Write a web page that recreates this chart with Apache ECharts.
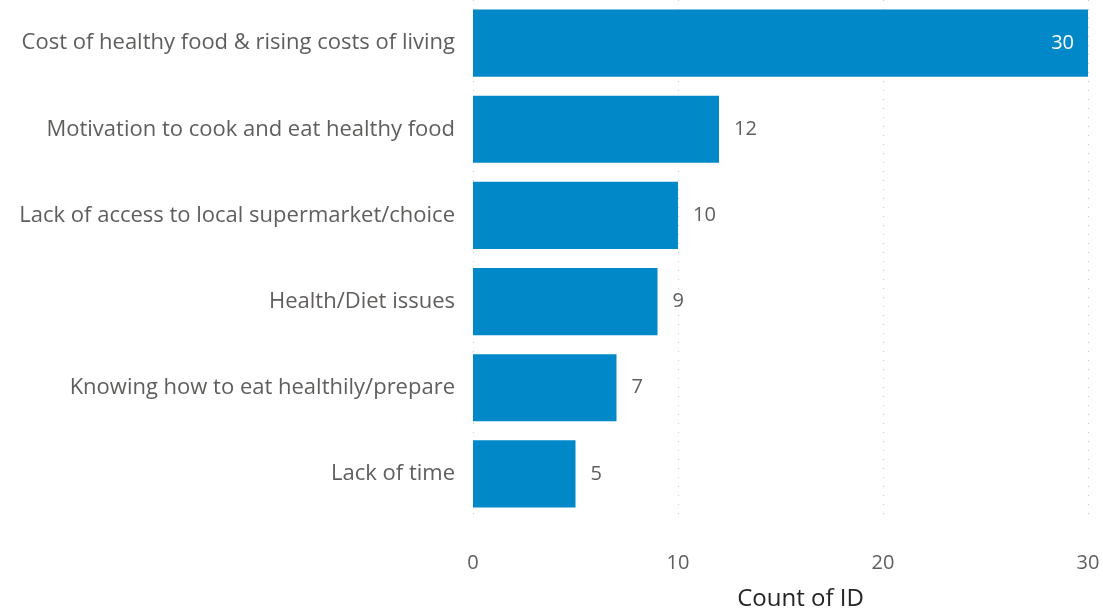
<!DOCTYPE html>
<html>
<head>
<meta charset="utf-8">
<script src="https://cdn.jsdelivr.net/npm/echarts@6/dist/echarts.min.js"></script>
<style>
  html, body { margin: 0; padding: 0; background: #fff; }
  #main { width: 1103px; height: 613px; }
</style>
</head>
<body>
<div id="main"></div>
<script>
// categories, top to bottom
var categories = [
  'Cost of healthy food & rising costs of living',
  'Motivation to cook and eat healthy food',
  'Lack of access to local supermarket/choice',
  'Health/Diet issues',
  'Knowing how to eat healthily/prepare',
  'Lack of time'
];
var counts = [30, 12, 10, 9, 7, 5];
var xTicks = [0, 10, 20, 30];

var FONT = '"Open Sans", "Noto Sans", sans-serif';
var chart = echarts.init(document.getElementById('main'));

var barData = counts.map(function (v, i) {
  var item = { value: v };
  // biggest bar gets its label inside, in white
  if (v === Math.max.apply(null, counts)) {
    item.label = { position: 'insideRight', color: '#ffffff', distance: 14 };
  }
  return item;
});

chart.setOption({
  animation: false,
  grid: { left: 473, right: 15, top: 0, bottom: 96, containLabel: false, outerBoundsMode: 'none' },
  xAxis: {
    type: 'value',
    min: xTicks[0],
    max: xTicks[xTicks.length - 1],
    interval: 10,
    name: 'Count of ID',
    nameLocation: 'middle',
    nameGap: 70,
    nameTextStyle: { fontFamily: FONT, fontSize: 24, color: '#252423', padding: [0, 0, 0, 40] },
    axisLine: { show: false },
    axisTick: { show: false },
    axisLabel: { fontFamily: FONT, fontSize: 20, color: '#605E5C', margin: 36 },
    splitLine: { show: true, lineStyle: { type: [1, 8], color: '#C8C6C4', width: 1 } }
  },
  yAxis: {
    type: 'category',
    data: categories,
    inverse: true,
    axisLine: { show: false },
    axisTick: { show: false },
    axisLabel: { fontFamily: FONT, fontSize: 22, color: '#605E5C', margin: 18 }
  },
  series: [{
    type: 'bar',
    data: barData,
    barCategoryGap: '22%',
    itemStyle: { color: '#0088C8' },
    label: {
      show: true,
      position: 'right',
      distance: 15,
      fontFamily: FONT,
      fontSize: 20,
      color: '#605E5C'
    }
  }]
});
</script>
</body>
</html>
